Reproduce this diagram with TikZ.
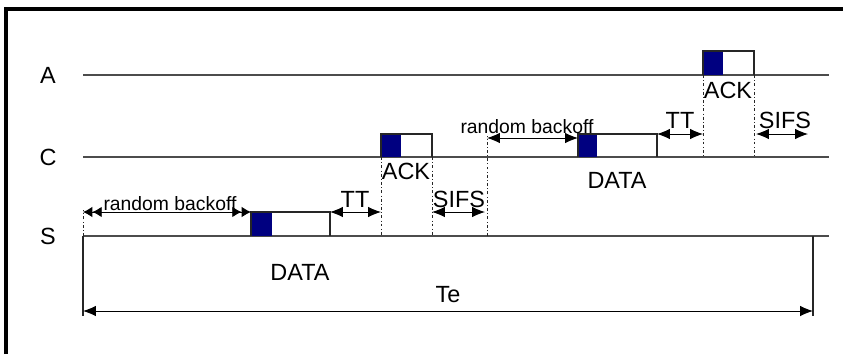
\documentclass[tikz,border=0pt]{standalone}
\usepackage{fontspec}
\setmainfont{Liberation Sans}
\usetikzlibrary{arrows.meta}

\begin{document}
\begin{tikzpicture}[
    x=0.03cm, y=-0.03cm,
    timeline/.style={draw=black!70, line width=1.1pt},
    pkt/.style={draw=black!85, line width=0.9pt},
    head/.style={fill={rgb,255:red,0;green,0;blue,128}},
    sync/.style={draw=black!85, line width=0.7pt, dash pattern=on 2.5pt off 2pt on 0.6pt off 2pt},
    span/.style={{Latex[length=11pt,width=9pt]}-{Latex[length=11pt,width=9pt]}, line width=0.8pt},
    dspan/.style={{Latex[length=8pt,width=9pt]Latex[length=8pt,width=9pt]}-{Latex[length=8pt,width=9pt]Latex[length=8pt,width=9pt]}, line width=0.8pt},
    big/.style={font=\fontsize{20}{22}\selectfont, inner sep=0pt},
    small/.style={font=\fontsize{16.5}{18}\selectfont, inner sep=0pt},
    >=Latex
]
  \useasboundingbox (0,0) rectangle (843,354);
  \draw[line width=2.6pt] (6,354) -- (6,9) -- (843,9);

  % stations
  \node[big] (labA) at (48,75) {A};
  \node[big] (labC) at (48,157) {C};
  \node[big] (labS) at (48,236) {S};
  \draw[timeline] (83,75) -- (829,75);
  \draw[timeline] (83,157) -- (829,157);
  \draw[timeline] (83,236) -- (829,236);

  % S data frame
  \fill[head] (251,212) rectangle (272,236);
  \draw[pkt] (251,236) -- (251,212) -- (330,212) -- (330,236);
  \node[big] (sdata) at (300,272) {DATA};

  % C ack frame
  \fill[head] (381,134) rectangle (401,157);
  \draw[pkt] (381,157) -- (381,134) -- (432,134) -- (432,157);
  \node[big] (cack) at (406,171) {ACK};

  % C data frame
  \fill[head] (578,134) rectangle (597,157);
  \draw[pkt] (578,157) -- (578,134) -- (657,134) -- (657,157);
  \node[big] (cdata) at (617,180) {DATA};

  % A ack frame
  \fill[head] (703,51) rectangle (723,75);
  \draw[pkt] (703,75) -- (703,51) -- (754,51) -- (754,75);
  \node[big] (aack) at (728,90) {ACK};

  % time marks
  \coordinate (s0) at (83,212);
  \coordinate (s1) at (251,212);
  \coordinate (s2) at (330,212);
  \coordinate (s3) at (381,212);
  \coordinate (s4) at (432,212);
  \coordinate (s5) at (485,212);
  \coordinate (c0) at (487,138);
  \coordinate (c1) at (578,138);
  \coordinate (c2) at (657,134);
  \coordinate (c3) at (703,134);
  \coordinate (c4) at (756,134);
  \coordinate (c5) at (808,134);

  \draw[sync] (83,236) -- (83,210);
  \draw[sync] (381,157) -- (381,236);
  \draw[sync] (432,157) -- (432,236);
  \draw[sync] (487,236) -- (487,136);
  \draw[sync] (703,75) -- (703,157);
  \draw[sync] (754,75) -- (754,157);

  \draw[dspan] (s0) -- (s1);
  \node[small] (sbo) at (170,204) {random backoff};
  \draw[span] (s2) -- (s3);
  \node[big] (stt) at (355,199) {TT};
  \draw[span] (s4) -- (s5);
  \node[big] (ssifs) at (459,199) {SIFS};

  \draw[span] (c0) -- (c1);
  \node[small] (cbo) at (527,127) {random backoff};
  \draw[span] (c2) -- (c3);
  \node[big] (ctt) at (680,120) {TT};
  \draw[span] (c4) -- (c5);
  \node[big] (csifs) at (785,120) {SIFS};

  % total
  \coordinate (t0) at (83,311);
  \coordinate (t1) at (813,311);
  \draw[pkt] (83,236) -- (83,316);
  \draw[pkt] (813,236) -- (813,316);
  \draw[span] (t0) -- (t1);
  \node[big] (te) at (448,295) {Te};
\end{tikzpicture}
\end{document}
